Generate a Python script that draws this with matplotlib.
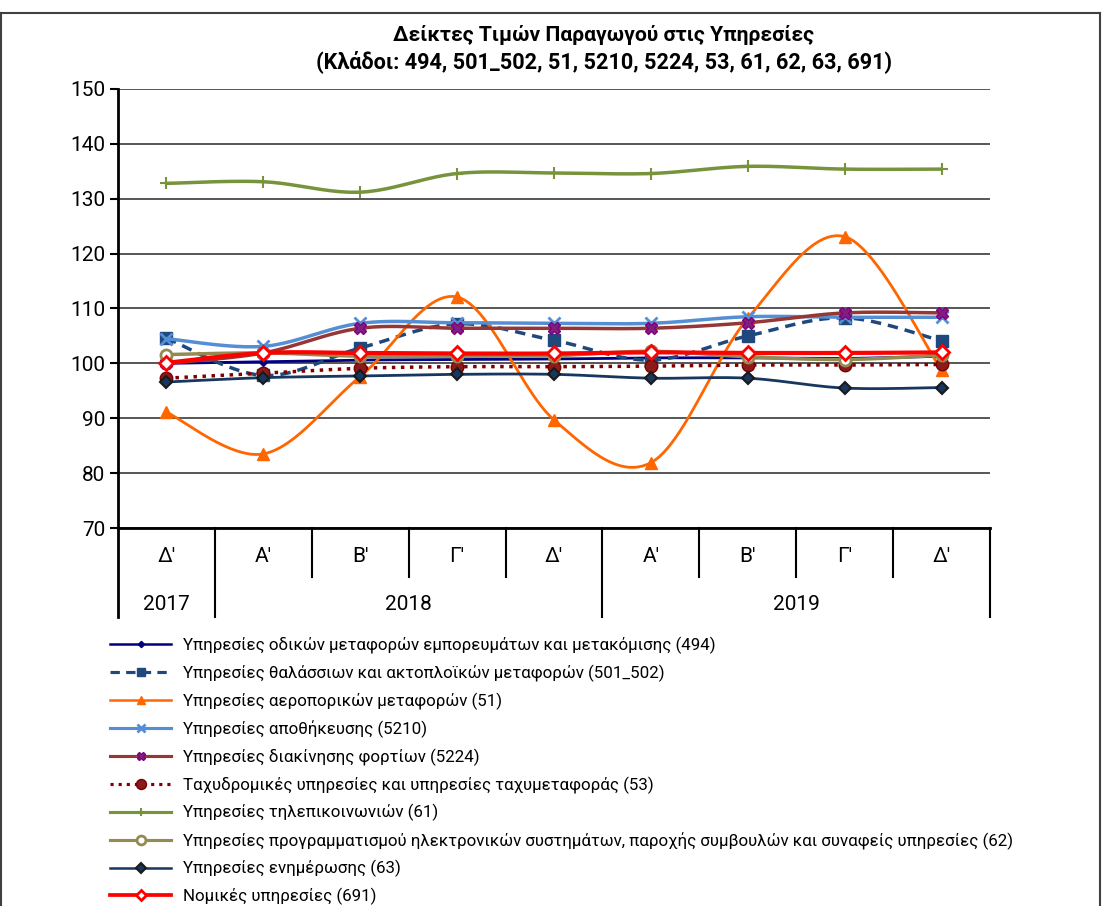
import numpy as np
import matplotlib
matplotlib.use("Agg")
import matplotlib.pyplot as plt
from matplotlib.lines import Line2D

plt.rcParams['font.family'] = ['Roboto', 'DejaVu Sans']

# ---- data ----
quarters = ["Δ'", "Α'", "Β'", "Γ'", "Δ'", "Α'", "Β'", "Γ'", "Δ'"]
years = ["2017", "2018", "2019"]
year_spans = [(0, 0), (1, 4), (5, 8)]

s494 = [100.0, 100.3, 100.6, 100.7, 100.8, 101.0, 101.0, 100.9, 101.3]
s501_502 = [104.6, 97.8, 102.8, 107.2, 104.2, 100.6, 105.0, 108.3, 104.1]
s51 = [91.1, 83.5, 97.6, 112.1, 89.7, 81.9, 108.2, 123.1, 98.8]
s5210 = [104.5, 103.1, 107.3, 107.4, 107.3, 107.3, 108.5, 108.4, 108.4]
s5224 = [100.0, 101.9, 106.4, 106.4, 106.4, 106.4, 107.4, 109.2, 109.2]
s53 = [97.3, 98.2, 99.1, 99.4, 99.4, 99.5, 99.7, 99.7, 99.8]
s61 = [132.8, 133.1, 131.2, 134.6, 134.7, 134.6, 135.9, 135.4, 135.4]
s62 = [101.6, 101.9, 101.3, 101.3, 101.4, 102.2, 101.2, 100.7, 101.5]
s63 = [96.6, 97.4, 97.7, 98.0, 98.0, 97.3, 97.3, 95.5, 95.6]
s691 = [100.1, 101.9, 101.9, 101.8, 101.8, 102.0, 101.9, 101.9, 102.0]

labels = [
    "Υπηρεσίες οδικών μεταφορών εμπορευμάτων και μετακόμισης (494)",
    "Υπηρεσίες θαλάσσιων και ακτοπλοϊκών μεταφορών (501_502)",
    "Υπηρεσίες αεροπορικών μεταφορών (51)",
    "Υπηρεσίες αποθήκευσης (5210)",
    "Υπηρεσίες διακίνησης φορτίων (5224)",
    "Ταχυδρομικές υπηρεσίες και υπηρεσίες ταχυμεταφοράς (53)",
    "Υπηρεσίες τηλεπικοινωνιών (61)",
    "Υπηρεσίες προγραμματισμού ηλεκτρονικών συστημάτων, παροχής συμβουλών και συναφείς υπηρεσίες (62)",
    "Υπηρεσίες ενημέρωσης (63)",
    "Νομικές υπηρεσίες (691)",
]

series = [s494, s501_502, s51, s5210, s5224, s53, s61, s62, s63, s691]

# line style, marker style per series
styles = [
    dict(color="#000080", lw=2.0, ls="-", marker="D", ms=4, mfc="#000080", mec="#000080", mew=1),
    dict(color="#1F497D", lw=2.5, ls=(0, (3, 2)), marker="s", ms=8, mfc="#1F497D", mec="#1F497D", mew=1),
    dict(color="#FF6600", lw=2.0, ls="-", marker="^", ms=8, mfc="#FF6600", mec="#FF6600", mew=1),
    dict(color="#558ED5", lw=2.5, ls="-", marker="x", ms=8, mfc="#558ED5", mec="#558ED5", mew=2),
    dict(color="#953735", lw=2.5, ls="-", marker="X", ms=8, mfc="#7F1F7F", mec="#800080", mew=1),
    dict(color="#800000", lw=2.5, ls=(0, (1, 1.6)), marker="o", ms=9, mfc="#8B1A1A", mec="#7A0000", mew=1),
    dict(color="#77933C", lw=2.5, ls="-", marker="+", ms=8, mfc="#77933C", mec="#77933C", mew=1.5),
    dict(color="#948A54", lw=2.5, ls="-", marker="o", ms=8, mfc="white", mec="#948A54", mew=2),
    dict(color="#17375E", lw=2.0, ls="-", marker="D", ms=6, mfc="#17375E", mec="#1a1a1a", mew=1.5),
    dict(color="#FF0000", lw=3.0, ls="-", marker="D", ms=7, mfc="white", mec="#FF0000", mew=2),
]


def smooth(y, n=24):
    # Excel-like smoothed line (Catmull-Rom as cubic Bezier)
    pts = np.column_stack([np.arange(len(y), dtype=float), np.asarray(y, dtype=float)])
    P = np.vstack([pts[0], pts, pts[-1]])
    t = np.linspace(0, 1, n)[:, None]
    out = []
    for i in range(len(pts) - 1):
        p0, p1, p2, p3 = P[i], P[i + 1], P[i + 2], P[i + 3]
        c1 = p1 + (p2 - p0) / 6
        c2 = p2 - (p3 - p1) / 6
        seg = (1 - t) ** 3 * p1 + 3 * (1 - t) ** 2 * t * c1 + 3 * (1 - t) * t ** 2 * c2 + t ** 3 * p2
        out.append(seg if i == 0 else seg[1:])
    return np.vstack(out)


W, H = 1105, 906
fig = plt.figure(figsize=(W / 100, H / 100), dpi=100)


def fx(px):
    return px / W


def fy(py):
    return 1 - py / H


ax_l, ax_r, ax_t, ax_b = 118, 990, 89, 528
ax = fig.add_axes([fx(ax_l), fy(ax_b), (ax_r - ax_l) / W, (ax_b - ax_t) / H])

x = np.arange(len(quarters))
handles = []
for i, (vals, st) in enumerate(zip(series, styles)):
    curve = smooth(vals)
    ax.plot(curve[:, 0], curve[:, 1], color=st["color"], lw=st["lw"], ls=st["ls"],
            solid_capstyle="round", zorder=3 + i * 0.1)
    ax.plot(x, vals, ls="none", marker=st["marker"], ms=st["ms"], mfc=st["mfc"],
            mec=st["mec"], mew=st["mew"], zorder=3.05 + i * 0.1, clip_on=False)
    handles.append(Line2D([], [], color=st["color"], lw=st["lw"] * 0.9, ls=st["ls"],
                          marker=st["marker"], ms=st["ms"] * 0.8, mfc=st["mfc"],
                          mec=st["mec"], mew=st["mew"]))

ax.set_xlim(-0.5, len(quarters) - 0.5)
ax.set_ylim(70, 150)
ax.set_yticks(np.arange(70, 151, 10))
ax.yaxis.grid(True, color="#3a3a3a", lw=1.2)
ax.set_axisbelow(True)
ax.tick_params(axis="y", direction="out", length=6, width=1.5, labelsize=15, pad=3)
ax.set_xticks([])
for s in ["top", "right"]:
    ax.spines[s].set_visible(False)
ax.spines["left"].set_linewidth(2)
ax.spines["bottom"].set_linewidth(2)

# category table below the axis
trans = ax.get_xaxis_transform()
q_len = (577 - ax_b) / (ax_b - ax_t)
y_len = (617 - ax_b) / (ax_b - ax_t)
year_edges = {-0.5, 0.5, 4.5, 8.5}
for k in range(len(quarters) + 1):
    xe = k - 0.5
    depth = y_len if xe in year_edges else q_len
    ax.plot([xe, xe], [0, -depth], transform=trans, color="black", lw=2 if xe == -0.5 else 1.5,
            clip_on=False)
for i, q in enumerate(quarters):
    ax.text(i, -(557 - ax_b) / (ax_b - ax_t), q, transform=trans, ha="center", va="center",
            fontsize=15)
for yr, (a, b) in zip(years, year_spans):
    ax.text((a + b) / 2, -(605 - ax_b) / (ax_b - ax_t), yr, transform=trans, ha="center",
            va="center", fontsize=15)

# title
fig.text(fx(604), fy(35), "Δείκτες Τιμών Παραγωγού στις Υπηρεσίες", ha="center", va="center",
         fontsize=15.2, fontweight="bold")
fig.text(fx(604), fy(62), "(Κλάδοι: 494, 501_502, 51, 5210, 5224, 53, 61, 62, 63, 691)",
         ha="center", va="center", fontsize=15.6, fontweight="bold")

# legend
fig.legend(handles, labels, loc="upper left", bbox_to_anchor=(fx(110), fy(637)),
           frameon=False, fontsize=12.2, handlelength=3.6, handletextpad=0.7,
           labelspacing=0.62, numpoints=1, borderaxespad=0, borderpad=0)

# outer chart frame
fig.add_artist(Line2D([fx(1), fx(1100)], [fy(13), fy(13)], color="#404040", lw=1.5))
fig.add_artist(Line2D([fx(1), fx(1)], [fy(13), 0], color="#404040", lw=1.5))
fig.add_artist(Line2D([fx(1100), fx(1100)], [fy(13), 0], color="#404040", lw=1.5))

fig.savefig("out.png", dpi=100)
